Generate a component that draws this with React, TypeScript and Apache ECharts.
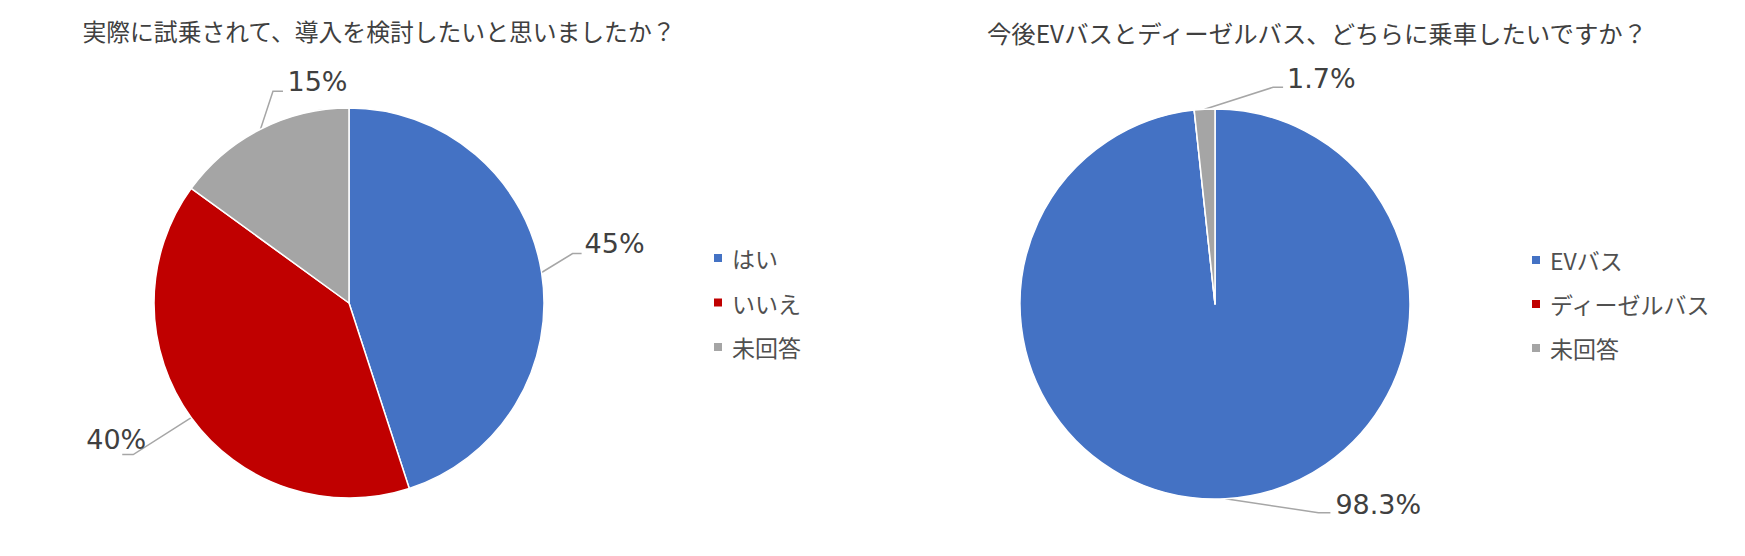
import React, { useEffect, useRef } from "react";
import * as echarts from "echarts";

// ---- data ----
const q1Title = "実際に試乗されて、導入を検討したいと思いましたか？";
const q1Categories = ["はい", "いいえ", "未回答"];
const q1Values = [45, 40, 15];

const q2Title = "今後EVバスとディーゼルバス、どちらに乗車したいですか？";
const q2Categories = ["EVバス", "ディーゼルバス", "未回答"];
const q2Values = [98.3, 0, 1.7];

// ---- styles ----
const sliceColors = ["#4472C4", "#C00000", "#A5A5A5"];
const textColor = "#404040";
const FONT = "'Noto Sans CJK JP', 'Noto Sans', sans-serif";
const LABEL_FONT = "'DejaVu Sans', 'Noto Sans', sans-serif";

// label placement relative to the slice edge point: [dx, dy, align], line elbow, line end
type Place = { label: [number, number, string]; elbow: [number, number]; end: [number, number] } | null;
const q1Places: Place[] = [
  { label: [43, -29, "left"], elbow: [31, -19], end: [40, -19] },
  { label: [-45, 22, "right"], elbow: [-58, 37], end: [-69, 37] },
  { label: [27, -48, "left"], elbow: [12.5, -38], end: [22.5, -38] },
];
const q2Places: Place[] = [
  { label: [110, 6, "left"], elbow: [93, 14], end: [105, 14] },
  null,
  { label: [82.5, -31, "left"], elbow: [68.5, -22], end: [78.5, -22] },
];

function makeLayout(places: Place[]) {
  return (params: any) => {
    const p = places[params.dataIndex];
    const pts = params.labelLinePoints;
    if (!p || !pts) return {};
    const [x0, y0] = pts[0];
    return {
      x: x0 + p.label[0],
      y: y0 + p.label[1],
      align: p.label[2],
      verticalAlign: "middle",
      labelLinePoints: [
        [x0, y0],
        [x0 + p.elbow[0], y0 + p.elbow[1]],
        [x0 + p.end[0], y0 + p.end[1]],
      ],
    };
  };
}

function pieSeries(name: string, cats: string[], vals: number[], center: [number, number], places: Place[]) {
  return {
    type: "pie",
    name,
    center,
    radius: 195,
    startAngle: 90,
    clockwise: true,
    avoidLabelOverlap: false,
    itemStyle: { borderColor: "#ffffff", borderWidth: 1.5 },
    label: {
      show: true,
      position: "outside",
      formatter: (p: any) => `${p.value}%`,
      fontFamily: LABEL_FONT,
      fontSize: 27,
      color: textColor,
    },
    labelLine: { show: true, lineStyle: { color: "#A6A6A6", width: 1.5 } },
    labelLayout: makeLayout(places),
    emphasis: { disabled: true },
    data: cats.map((c, i) => ({
      name: c,
      value: vals[i],
      itemStyle: { color: sliceColors[i] },
      label: { show: vals[i] !== 0 },
      labelLine: { show: vals[i] !== 0 },
    })),
  };
}

export default function App() {
  const ref = useRef<HTMLDivElement>(null);
  useEffect(() => {
    if (!ref.current) return;
    const chart = echarts.init(ref.current, null, { renderer: "svg" });
    const legendBase = {
      orient: "vertical",
      icon: "rect",
      itemWidth: 10,
      itemHeight: 10,
      padding: 0,
      textStyle: {
        fontFamily: FONT,
        fontSize: 23,
        lineHeight: 24,
        color: "#505050",
        padding: [0, 0, 0, 4],
      },
      selectedMode: false,
    };
    chart.setOption({
      animation: false,
      backgroundColor: "#ffffff",
      title: [
        {
          text: q1Title,
          left: 379,
          top: 19,
          textAlign: "center",
          padding: 0,
          textStyle: { fontFamily: FONT, fontSize: 23.8, fontWeight: "normal", color: textColor },
        },
        {
          text: q2Title,
          left: 1317,
          top: 20,
          textAlign: "center",
          padding: 0,
          textStyle: { fontFamily: FONT, fontSize: 24.4, fontWeight: "normal", color: textColor },
        },
      ],
      legend: [
        { ...legendBase, data: q1Categories, left: 712, top: 246, itemGap: 20.5 },
        { ...legendBase, data: q2Categories, left: 1530, top: 248, itemGap: 20 },
      ],
      series: [
        pieSeries("q1", q1Categories, q1Values, [349, 303], q1Places),
        pieSeries("q2", q2Categories, q2Values, [1215, 304], q2Places),
      ],
    });
    return () => chart.dispose();
  }, []);
  return (
    <div
      ref={ref}
      style={{ position: "fixed", left: 0, top: 0, width: 1745, height: 556, background: "#fff" }}
    />
  );
}
